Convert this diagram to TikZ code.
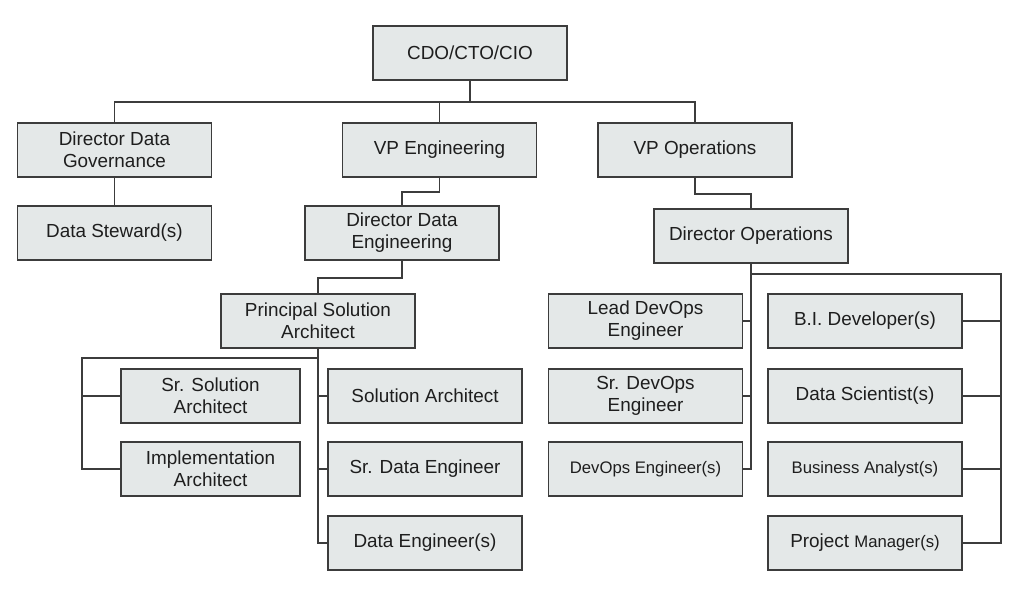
\documentclass[tikz,border=0pt]{standalone}
\usepackage{fontspec}
\setmainfont{Liberation Sans}
\definecolor{boxfill}{HTML}{E4E8E8}
\definecolor{boxline}{HTML}{3C3C3C}
\definecolor{textdark}{HTML}{1E1E1E}
\newcommand{\smalltxt}{\fontsize{16.7}{20}\selectfont}
\begin{document}
\begin{tikzpicture}[x=1pt, y=-1pt,
  role/.style={draw=boxline, fill=boxfill, line width=1.8pt, minimum width=194pt, minimum height=54pt,
    inner sep=0pt, align=center, text=textdark, font=\fontsize{18.9}{22}\selectfont},
  narrow/.style={role, minimum width=179pt},
  link/.style={draw=boxline, line width=1.6pt}]
\useasboundingbox (0,0) rectangle (1024,594);
\node[role] (cdo) at (470,53) {CDO/CTO/CIO};
\node[role] (ddg) at (114.5,150) {Director Data\\Governance};
\node[role] (vpeng) at (439.5,150) {VP Engineering};
\node[role] (vpops) at (695,150) {VP Operations};
\node[role] (ds) at (114.5,233) {Data Steward(s)};
\node[role] (dde) at (402,233) {Director Data\\Engineering};
\node[role] (dirops) at (751,236) {Director Operations};
\node[role] (psa) at (318,321) {Principal Solution\\Architect};
\node[narrow] (ssa) at (210.5,396) {Sr. Solution\\Architect};
\node[narrow] (ia) at (210.5,469) {Implementation\\Architect};
\node[role] (sa) at (425,396) {Solution Architect};
\node[role] (sde) at (425,469) {Sr. Data Engineer};
\node[role] (de) at (425,543) {Data Engineer(s)};
\node[role] (ldo) at (645.5,321) {Lead DevOps\\Engineer};
\node[role] (sdo) at (645.5,396) {Sr. DevOps\\Engineer};
\node[role] (doe) at (645.5,469) {\smalltxt DevOps Engineer(s)};
\node[role] (bi) at (865,321) {B.I. Developer(s)};
\node[role] (dsc) at (865,396) {Data Scientist(s)};
\node[role] (ba) at (865,469) {\smalltxt Business Analyst(s)};
\node[role] (pm) at (865,543) {Project {\smalltxt Manager(s)}};
\coordinate (psaleft) at (82,358);
\coordinate (opsright) at (1001,274);
\draw[link] (cdo.south) -- ++(0,21) -| (ddg.north);
\draw[link] (cdo.south) ++(0,21) -| (vpeng.north);
\draw[link] (cdo.south) ++(0,21) -| (vpops.north);
\draw[link] (ddg.south) -- (ds.north);
\draw[link] (vpeng.south) -- ++(0,14) -| (dde.north);
\draw[link] (dde.south) -- ++(0,17) -| (psa.north);
\draw[link] (vpops.south) -- ++(0,16) -| (dirops.north);
\draw[link] (psa.south) |- (sa.west);
\draw[link] (psa.south) |- (sde.west);
\draw[link] (psa.south) |- (de.west);
\draw[link] (psa.south |- psaleft) -- (psaleft) |- (ia.west);
\draw[link] (psaleft |- ssa.west) -- (ssa.west);
\draw[link] (dirops.south) |- (ldo.east);
\draw[link] (dirops.south) |- (sdo.east);
\draw[link] (dirops.south) |- (doe.east);
\draw[link] (dirops.south |- opsright) -- (opsright) |- (pm.east);
\draw[link] (opsright |- bi.east) -- (bi.east);
\draw[link] (opsright |- dsc.east) -- (dsc.east);
\draw[link] (opsright |- ba.east) -- (ba.east);
\end{tikzpicture}
\end{document}
